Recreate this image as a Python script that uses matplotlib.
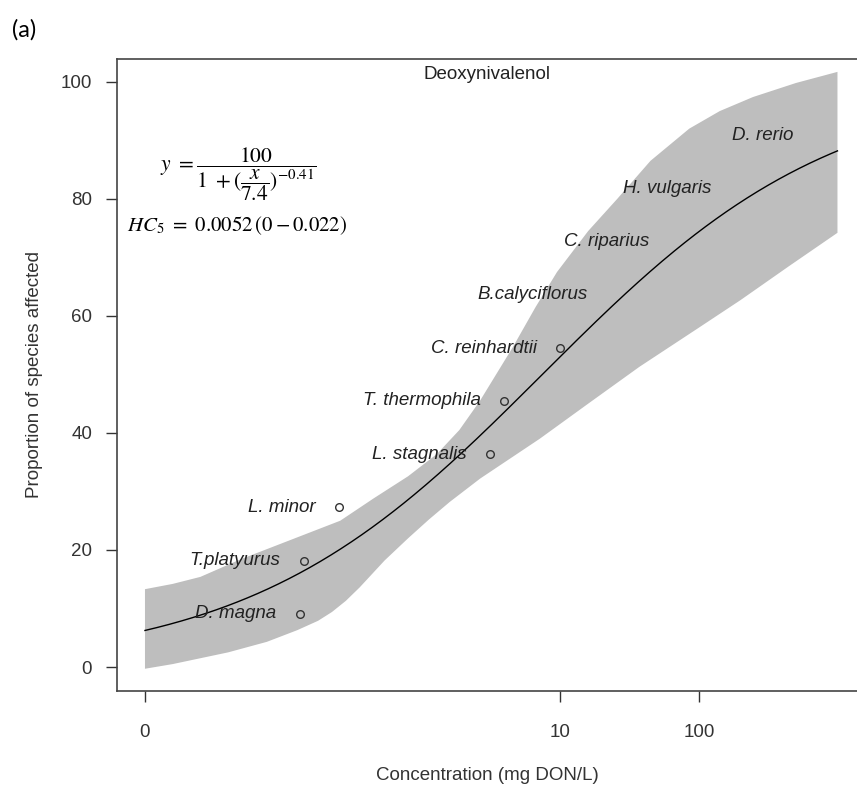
import numpy as np
import matplotlib
matplotlib.use("Agg")
from matplotlib import pyplot as plt

plt.rcParams['font.family'] = ['Liberation Sans', 'DejaVu Sans']
plt.rcParams['mathtext.fontset'] = 'stix'

# Especes testees, concentration effective (mg DON/L) et proportion affectee (%)
species = ["D. magna", "T.platyurus", "L. minor", "L. stagnalis", "T. thermophila",
           "C. reinhardtii", "B.calyciflorus", "C. riparius", "H. vulgaris", "D. rerio"]
conc = [0.131, 0.141, 0.252, 3.10, 3.91, 10.0, 23.2, 65.0, 182.0, 710.0]
proportion = [9.1, 18.2, 27.3, 36.4, 45.5, 54.5, 63.6, 72.7, 81.8, 90.9]
# seules les 6 premieres especes ont un point trace
plotted = [True, True, True, True, True, True, False, False, False, False]

# Parametres de la courbe log-logistique ajustee
top_param = 100
ec50 = 7.4
slope = -0.41

# Intervalle de confiance (bords de la bande grise), x en log10
band_upper_logx = [-2.0, -1.8, -1.6, -1.31, -0.95, -0.59, -0.35, -0.1, 0.108, 0.27,
                   0.419, 0.657, 0.82, 0.975, 1.2, 1.41, 1.65, 1.93, 2.15, 2.39, 2.7, 3.0]
band_upper = [13.3, 14.2, 15.4, 18.4, 21.7, 25.0, 28.8, 32.6, 36.4, 40.5,
              45.5, 54.7, 61.5, 67.5, 74.5, 80.0, 86.5, 92.0, 95.0, 97.4, 99.8, 101.7]
band_lower_logx = [-2.0, -1.8, -1.6, -1.4, -1.12, -0.9, -0.75, -0.65, -0.55, -0.45,
                   -0.27, -0.1, 0.05, 0.2, 0.42, 0.85, 1.2, 1.57, 2.0, 2.3, 2.65, 3.0]
band_lower = [-0.3, 0.5, 1.5, 2.5, 4.3, 6.3, 7.9, 9.4, 11.3, 13.6,
              18.2, 22.0, 25.2, 28.2, 32.2, 39.0, 45.0, 51.3, 58.0, 62.7, 68.5, 74.2]

W, H = 857, 791
fig = plt.figure(figsize=(W / 100, H / 100), dpi=100)
ax = fig.add_axes([117 / W, 1 - 691 / H, (W - 117) / W, (691 - 59) / H])

# Bande de confiance (polygone borne haute puis borne basse)
poly_x = np.concatenate([band_upper_logx, band_lower_logx[::-1]])
poly_y = np.concatenate([band_upper, band_lower[::-1]])
ax.fill(10 ** poly_x, poly_y, color="#bebebe", lw=0)

# Courbe ajustee
xc = np.logspace(-2, 3, 400)
yc = top_param / (1 + (xc / ec50) ** slope)
ax.plot(xc, yc, color="black", lw=1)

# Points et noms des especes
for name, c, p, show in zip(species, conc, proportion, plotted):
    if show:
        ax.plot(c, p, 'o', mfc='none', mec='#333333', ms=5.5, mew=1)
    ax.annotate(name, (c, p), xytext=(-17, 0), textcoords='offset points',
                ha='right', va='center', style='italic', fontsize=13.5, color='#222222')

ax.set_xscale('log')
ax.set_xlim(10 ** -2.202, 10 ** 3.141)
ax.set_ylim(-4.1, 103.9)
ax.set_xticks([0.01, 10, 100])
ax.set_xticklabels(["0", "10", "100"])
ax.set_yticks([0, 20, 40, 60, 80, 100])
ax.minorticks_off()
ax.tick_params(axis='x', direction='out', length=8, width=1, colors='#333333',
               labelsize=13.5, pad=16)
ax.tick_params(axis='y', direction='out', length=8, width=1, colors='#333333',
               labelsize=13.5, pad=10)
for side in ['left', 'top', 'bottom']:
    ax.spines[side].set_color('#444444')
    ax.spines[side].set_linewidth(1.2)
ax.spines['right'].set_visible(False)

ax.set_xlabel("Concentration (mg DON/L)", fontsize=13.5, color='#333333', va='center')
ax.xaxis.set_label_coords(0.5, -(775 - 691) / 632)
ax.set_ylabel("Proportion of species affected", fontsize=13.5, color='#333333', va='center')
ax.yaxis.set_label_coords(-(117 - 35) / 740, 0.5)

ax.text(0.5, 1 - 7 / 632, "Deoxynivalenol", transform=ax.transAxes, ha='center', va='top',
        fontsize=13.5, color='#222222')

# Equation et HC5
fig.text(160 / W, 1 - 174 / H, r"$y\ =\dfrac{100}{1\ +(\dfrac{x}{7.4})^{-0.41}}$",
         ha='left', va='center', fontsize=15.5, color='black')
fig.text(127 / W, 1 - 226 / H, r"$HC_5\ =\ 0.0052\,(0-0.022)$",
         ha='left', va='center', fontsize=15, color='black')

fig.text(12 / W, 1 - 30 / H, "(a)", ha='left', va='center', fontsize=17,
         family=['Lato', 'DejaVu Sans'], color='black')

fig.savefig("out.png", dpi=100)
